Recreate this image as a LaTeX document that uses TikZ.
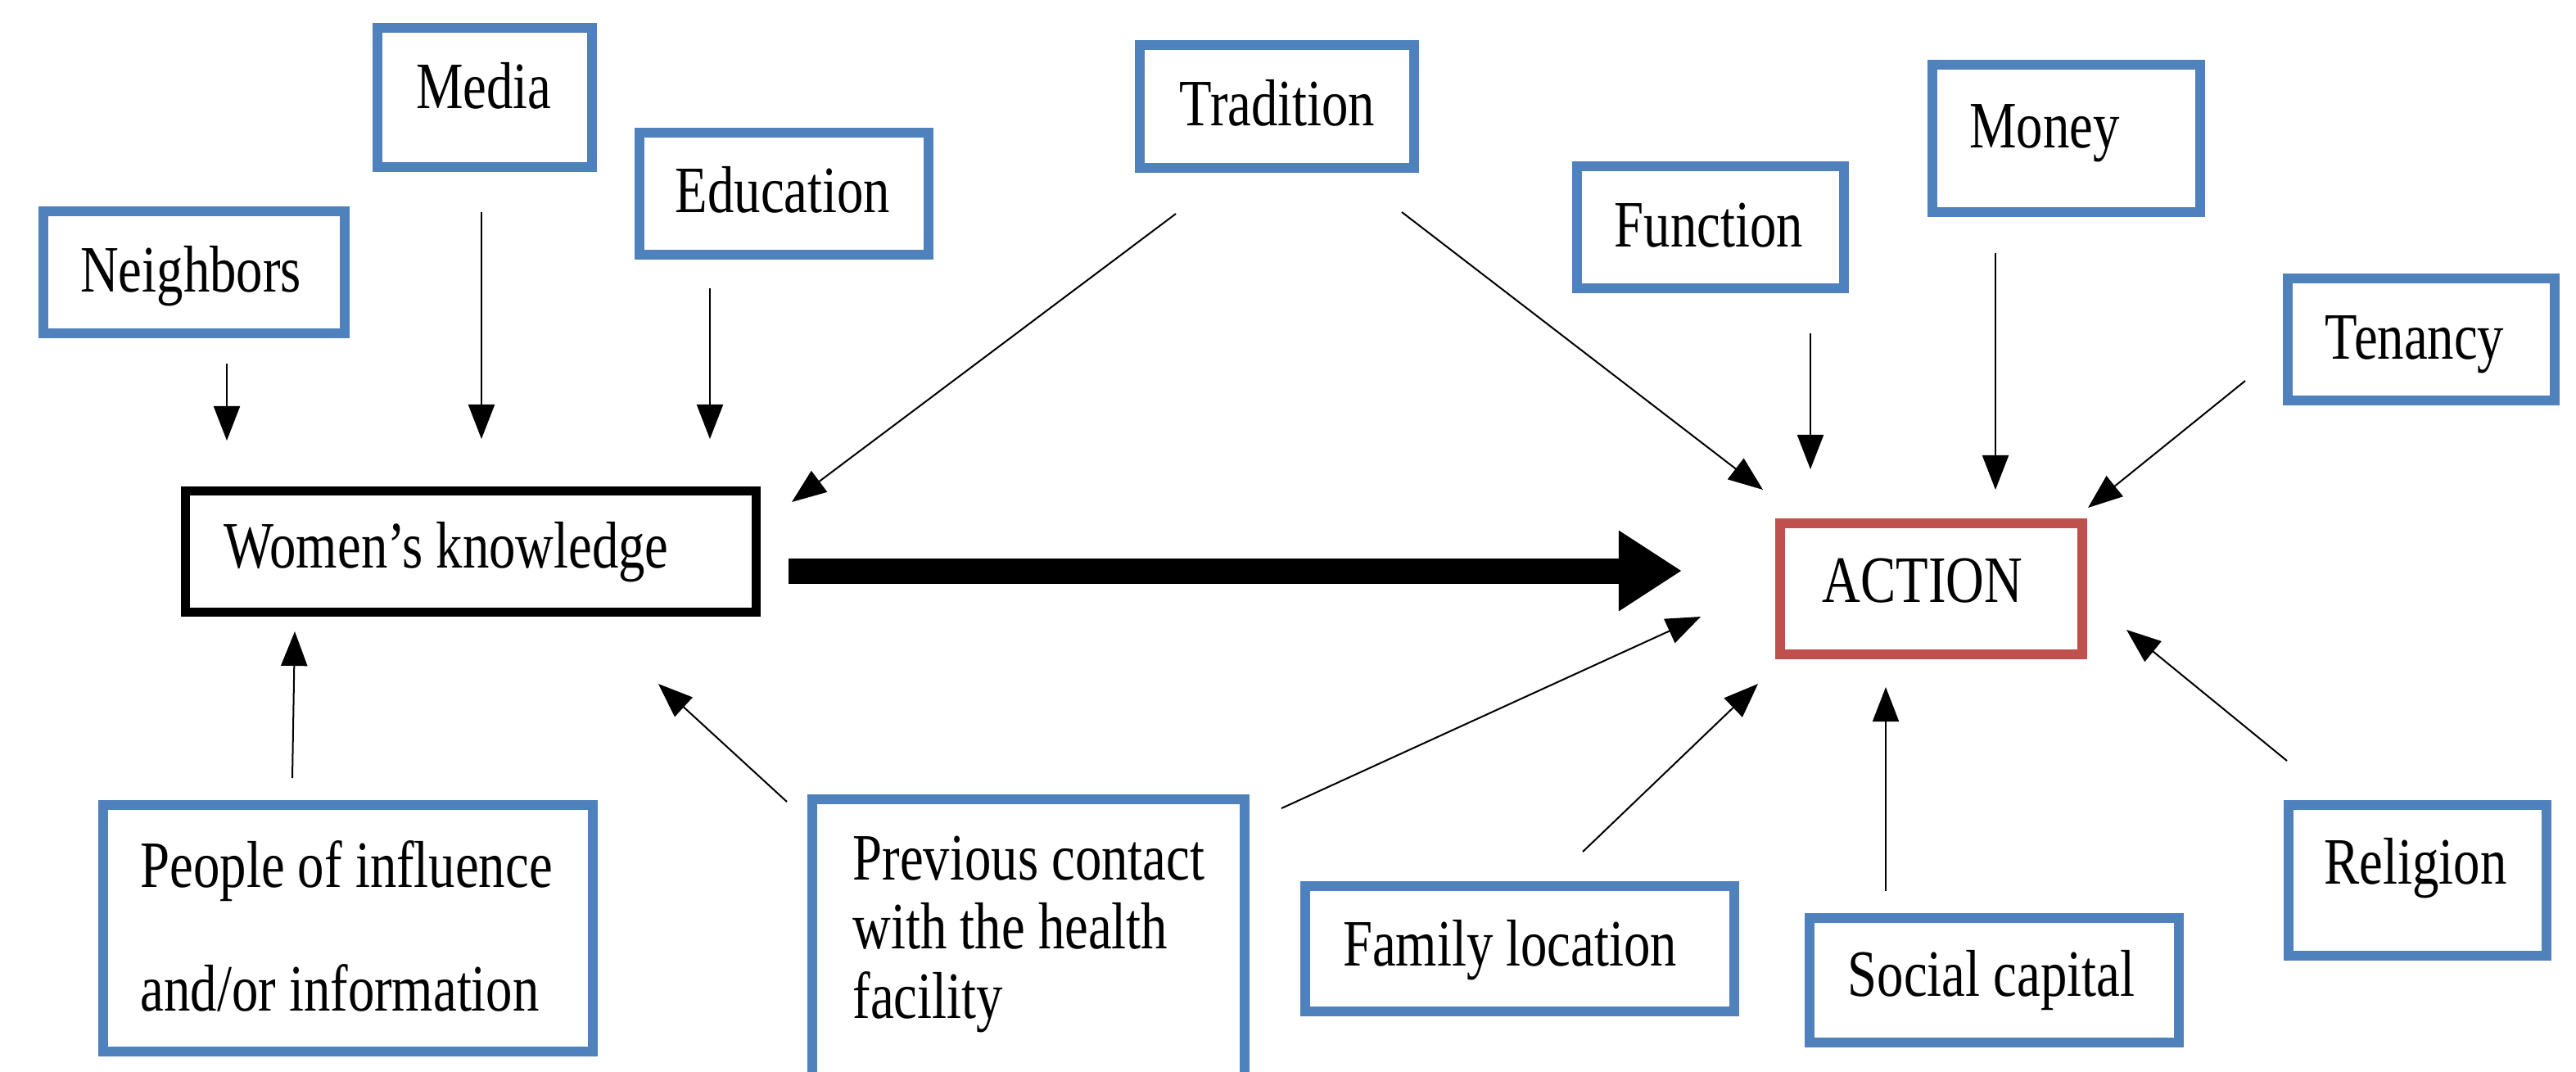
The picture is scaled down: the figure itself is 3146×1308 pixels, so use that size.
\documentclass[tikz,border=0pt]{standalone}
\usepackage{fontspec}
\setmainfont{Liberation Serif}[FakeStretch=0.8]
\usetikzlibrary{arrows.meta}
\definecolor{boxblue}{HTML}{4F81BD}
\definecolor{boxred}{HTML}{C0504D}
\tikzset{
  fbox/.style={draw=boxblue, line width=0.12cm, rectangle, inner sep=0pt, fill=white},
  kbox/.style={draw=black, line width=0.11cm, rectangle, inner sep=0pt},
  abox/.style={draw=boxred, line width=0.12cm, rectangle, inner sep=0pt},
  txt/.style={font=\fontsize{23pt}{24pt}\selectfont, inner sep=0pt, text=black},
  thin/.style={line width=0.02cm, -{Triangle[length=0.42cm,width=0.32cm]}},
  thick/.style={line width=0.31cm, -{Triangle[length=0.77cm,width=0.93cm]}}
}
\begin{document}
\begin{tikzpicture}[x=0.01cm, y=-0.01cm]
\useasboundingbox[fill=white] (0,0) rectangle (3146,1308);
% boxes
\node[fbox, minimum width=3.68cm, minimum height=1.49cm] (neighbors) at (237,332.5) {};
\node[fbox, minimum width=2.62cm, minimum height=1.70cm] (media) at (592,119) {};
\node[fbox, minimum width=3.53cm, minimum height=1.49cm] (education) at (957.5,236.5) {};
\node[fbox, minimum width=3.35cm, minimum height=1.50cm] (tradition) at (1559.5,130) {};
\node[fbox, minimum width=3.26cm, minimum height=1.49cm] (function) at (2089,277.5) {};
\node[fbox, minimum width=3.27cm, minimum height=1.80cm] (money) at (2523.5,169) {};
\node[fbox, minimum width=3.26cm, minimum height=1.49cm] (tenancy) at (2957,414.5) {};
\node[kbox, minimum width=6.97cm, minimum height=1.48cm] (women) at (575,673.5) {};
\node[abox, minimum width=3.69cm, minimum height=1.60cm] (action) at (2358.5,719) {};
\node[fbox, minimum width=5.98cm, minimum height=3.01cm] (people) at (425,1133.5) {};
\node[fbox, minimum width=5.28cm, minimum height=3.43cm] (previous) at (1256,1147.5) {};
\node[fbox, minimum width=5.24cm, minimum height=1.53cm] (family) at (1856,1158.5) {};
\node[fbox, minimum width=4.51cm, minimum height=1.52cm] (social) at (2435.5,1197) {};
\node[fbox, minimum width=3.15cm, minimum height=1.84cm] (religion) at (2952.5,1075) {};
% texts
\node[txt, anchor=base] (neighbors-t) at (233,356) {Neighbors};
\node[txt, anchor=base] (media-t) at (591,132) {Media};
\node[txt, anchor=base] (education-t) at (956,259) {Education};
\node[txt, anchor=base] (tradition-t) at (1560,153) {Tradition};
\node[txt, anchor=base] (function-t) at (2087,301) {Function};
\node[txt, anchor=base] (money-t) at (2497,180) {Money};
\node[txt, anchor=base] (tenancy-t) at (2949,438) {Tenancy};
\node[txt, anchor=base west] (women-t) at (273,693) {Women’s knowledge};
\node[txt, anchor=base] (action-t) at (2348,735) {ACTION};
\node[txt, anchor=base west, align=left] (people-t) at (171,1234) {People of influence\\[18.8pt]and/or information};
\node[txt, anchor=base west, align=left] (previous-t) at (1041,1243) {Previous contact\\with the health\\facility};
\node[txt, anchor=base] (family-t) at (1844,1179) {Family location};
\node[txt, anchor=base] (social-t) at (2432,1216) {Social capital};
\node[txt, anchor=base] (religion-t) at (2950,1079) {Religion};
% connector end points
\coordinate (nb-a) at (277,444);  \coordinate (nb-b) at (277,538);
\coordinate (md-a) at (588,259);  \coordinate (md-b) at (588,536);
\coordinate (ed-a) at (867,352);  \coordinate (ed-b) at (867,536);
\coordinate (trl-a) at (1436,261); \coordinate (trl-b) at (967,613);
\coordinate (trr-a) at (1712,259); \coordinate (trr-b) at (2153,598);
\coordinate (fn-a) at (2211,407); \coordinate (fn-b) at (2211,573);
\coordinate (mn-a) at (2437,309); \coordinate (mn-b) at (2437,598);
\coordinate (tn-a) at (2742,465); \coordinate (tn-b) at (2550,620);
\coordinate (pp-a) at (357,950);  \coordinate (pp-b) at (360,771);
\coordinate (pvw-a) at (961,979); \coordinate (pvw-b) at (804,835);
\coordinate (pva-a) at (1565,987); \coordinate (pva-b) at (2077,753);
\coordinate (fl-a) at (1933,1040); \coordinate (fl-b) at (2147,835);
\coordinate (sc-a) at (2303,1088); \coordinate (sc-b) at (2303,839);
\coordinate (rl-a) at (2793,929); \coordinate (rl-b) at (2597,769);
\coordinate (wk-a) at (963,697); \coordinate (wk-b) at (2054,697);
% connectors
\draw[thin] (nb-a) -- (nb-b);
\draw[thin] (md-a) -- (md-b);
\draw[thin] (ed-a) -- (ed-b);
\draw[thin] (trl-a) -- (trl-b);
\draw[thin] (trr-a) -- (trr-b);
\draw[thin] (fn-a) -- (fn-b);
\draw[thin] (mn-a) -- (mn-b);
\draw[thin] (tn-a) -- (tn-b);
\draw[thin] (pp-a) -- (pp-b);
\draw[thin] (pvw-a) -- (pvw-b);
\draw[thin] (pva-a) -- (pva-b);
\draw[thin] (fl-a) -- (fl-b);
\draw[thin] (sc-a) -- (sc-b);
\draw[thin] (rl-a) -- (rl-b);
\draw[thick] (wk-a) -- (wk-b);
\end{tikzpicture}
\end{document}
